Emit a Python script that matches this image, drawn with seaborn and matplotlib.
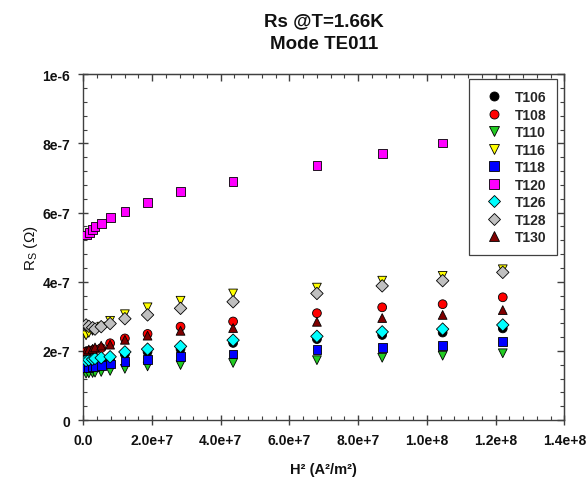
import numpy as np
import pandas as pd
import matplotlib
matplotlib.use("Agg")
import matplotlib.pyplot as plt
import seaborn as sns
from matplotlib.ticker import FixedLocator, FixedFormatter, MultipleLocator, NullFormatter

# ---- data ----
H2 = [0.8e6, 1.6e6, 2.7e6, 3.4e6, 5.2e6, 7.8e6, 12.1e6, 18.7e6, 28.3e6,
      43.6e6, 68.0e6, 87.0e6, 104.6e6, 122.1e6]
H2_T120 = [1.0e6, 1.7e6, 2.7e6, 3.4e6, 5.2e6, 7.8e6, 12.1e6, 18.7e6, 28.3e6,
           43.6e6, 68.0e6, 87.0e6, 104.6e6]

T106 = [1.66, 1.67, 1.68, 1.70, 1.72, 1.76, 1.90, 1.97, 2.05, 2.23, 2.34, 2.46, 2.53, 2.65]
T108 = [1.98, 2.00, 2.02, 2.04, 2.08, 2.22, 2.36, 2.49, 2.70, 2.85, 3.09, 3.26, 3.35, 3.55]
T110 = [1.34, 1.35, 1.36, 1.37, 1.39, 1.42, 1.48, 1.55, 1.59, 1.65, 1.73, 1.80, 1.86, 1.93]
T116 = [2.45, 2.52, 2.58, 2.62, 2.70, 2.87, 3.06, 3.26, 3.45, 3.66, 3.83, 4.03, 4.17, 4.36]
T118 = [1.52, 1.53, 1.54, 1.55, 1.57, 1.62, 1.70, 1.76, 1.84, 1.91, 2.03, 2.10, 2.15, 2.26]
T120 = [5.35, 5.43, 5.50, 5.60, 5.69, 5.86, 6.04, 6.29, 6.60, 6.91, 7.36, 7.71, 8.01]
T126 = [1.72, 1.74, 1.76, 1.78, 1.80, 1.83, 1.97, 2.05, 2.13, 2.31, 2.42, 2.55, 2.63, 2.75]
T128 = [2.75, 2.71, 2.67, 2.63, 2.70, 2.79, 2.93, 3.04, 3.23, 3.42, 3.66, 3.88, 4.03, 4.27]
T130 = [2.00, 2.04, 2.06, 2.10, 2.15, 2.18, 2.32, 2.44, 2.58, 2.66, 2.84, 2.95, 3.04, 3.18]

samples = ["T106", "T108", "T110", "T116", "T118", "T120", "T126", "T128", "T130"]
series = {"T106": T106, "T108": T108, "T110": T110, "T116": T116, "T118": T118,
          "T120": T120, "T126": T126, "T128": T128, "T130": T130}
colors = {"T106": "#000000", "T108": "#FF0000", "T110": "#22CC22", "T116": "#FFFF00",
          "T118": "#0000FF", "T120": "#FF00FF", "T126": "#00FFFF", "T128": "#C0C0C0",
          "T130": "#800000"}
markers = {"T106": "o", "T108": "o", "T110": "v", "T116": "v", "T118": "s",
           "T120": "s", "T126": "D", "T128": "D", "T130": "^"}

xticks = [0, 2e7, 4e7, 6e7, 8e7, 1e8, 1.2e8, 1.4e8]
xticklabels = ["0.0", "2.0e+7", "4.0e+7", "6.0e+7", "8.0e+7", "1.0e+8", "1.2e+8", "1.4e+8"]
yticks = [0, 2e-7, 4e-7, 6e-7, 8e-7, 1e-6]
yticklabels = ["0", "2e-7", "4e-7", "6e-7", "8e-7", "1e-6"]

rows = []
for s in samples:
    xs = H2_T120 if s == "T120" else H2
    for x, y in zip(xs, series[s]):
        rows.append({"H2": x, "Rs": y * 1e-7, "sample": s})
df = pd.DataFrame(rows)

# ---- style ----
sns.set_style("ticks")
plt.rcParams["font.family"] = ["Liberation Sans", "DejaVu Sans"]
plt.rcParams["mathtext.fontset"] = "custom"
plt.rcParams["mathtext.rm"] = "Liberation Sans"

fig = plt.figure(figsize=(5.86, 4.81), dpi=100)
ax = fig.add_axes([0.1422, 0.1247, 0.8207, 0.7188])

sns.scatterplot(data=df, x="H2", y="Rs", hue="sample", style="sample",
                hue_order=samples, style_order=samples, palette=colors,
                markers=markers, s=40, edgecolor="black", linewidth=0.6,
                legend="full", ax=ax, zorder=3)

ax.set_xlim(0, 1.4e8)
ax.set_ylim(0, 1e-6)
ax.xaxis.set_major_locator(FixedLocator(xticks))
ax.xaxis.set_major_formatter(FixedFormatter(xticklabels))
ax.yaxis.set_major_locator(FixedLocator(yticks))
ax.yaxis.set_major_formatter(FixedFormatter(yticklabels))
ax.xaxis.set_minor_locator(MultipleLocator(4e6))
ax.yaxis.set_minor_locator(MultipleLocator(4e-8))

for sp in ax.spines.values():
    sp.set_visible(True)
    sp.set_color("#404040")
    sp.set_linewidth(1.0)

ax.tick_params(which="major", direction="inout", length=7, width=1.0,
               color="#404040", top=False, right=False, labelsize=10, pad=6)
ax.tick_params(which="minor", direction="in", length=3, width=0.8,
               color="#404040", top=False, right=False)
for lab in ax.get_xticklabels() + ax.get_yticklabels():
    lab.set_fontweight("bold")
    lab.set_color("#111111")

# mirrored inward ticks on top and right
secx = ax.secondary_xaxis("top")
secx.xaxis.set_major_locator(FixedLocator(xticks))
secx.xaxis.set_minor_locator(MultipleLocator(4e6))
secx.xaxis.set_major_formatter(NullFormatter())
secx.tick_params(which="major", direction="in", length=5, width=1.0, color="#404040")
secx.tick_params(which="minor", direction="in", length=3, width=0.8, color="#404040")
secx.spines["top"].set_color("#404040")
secy = ax.secondary_yaxis("right")
secy.yaxis.set_major_locator(FixedLocator(yticks))
secy.yaxis.set_minor_locator(MultipleLocator(4e-8))
secy.yaxis.set_major_formatter(NullFormatter())
secy.tick_params(which="major", direction="in", length=5, width=1.0, color="#404040")
secy.tick_params(which="minor", direction="in", length=3, width=0.8, color="#404040")
secy.spines["right"].set_color("#404040")

ax.set_xlabel("H² (A²/m²)", fontsize=10.5, fontweight="bold", color="#111111")
ax.set_ylabel("R$_\\mathregular{S}$ (Ω)", fontsize=11, color="#111111")
ax.xaxis.set_label_coords(0.5, -0.12)
ax.yaxis.set_label_coords(-0.09, 0.5)

ax.set_title("Rs @T=1.66K\nMode TE011", fontsize=13.5, fontweight="bold",
             linespacing=1.4, pad=19, color="#111111")

handles, labels = ax.get_legend_handles_labels()
for h in handles:
    try:
        h.set_markersize(6.5)
        h.set_markeredgewidth(0.6)
    except Exception:
        pass
leg = ax.legend(handles, labels, loc="upper left", bbox_to_anchor=(0.8015, 0.986),
                frameon=True, fancybox=False, edgecolor="#404040", framealpha=1,
                prop={"weight": "bold", "size": 10}, labelspacing=0.25,
                handletextpad=0.5, borderpad=0.8, handlelength=2.0, borderaxespad=0)
leg.get_frame().set_linewidth(0.9)

fig.savefig("out.png", dpi=100)
